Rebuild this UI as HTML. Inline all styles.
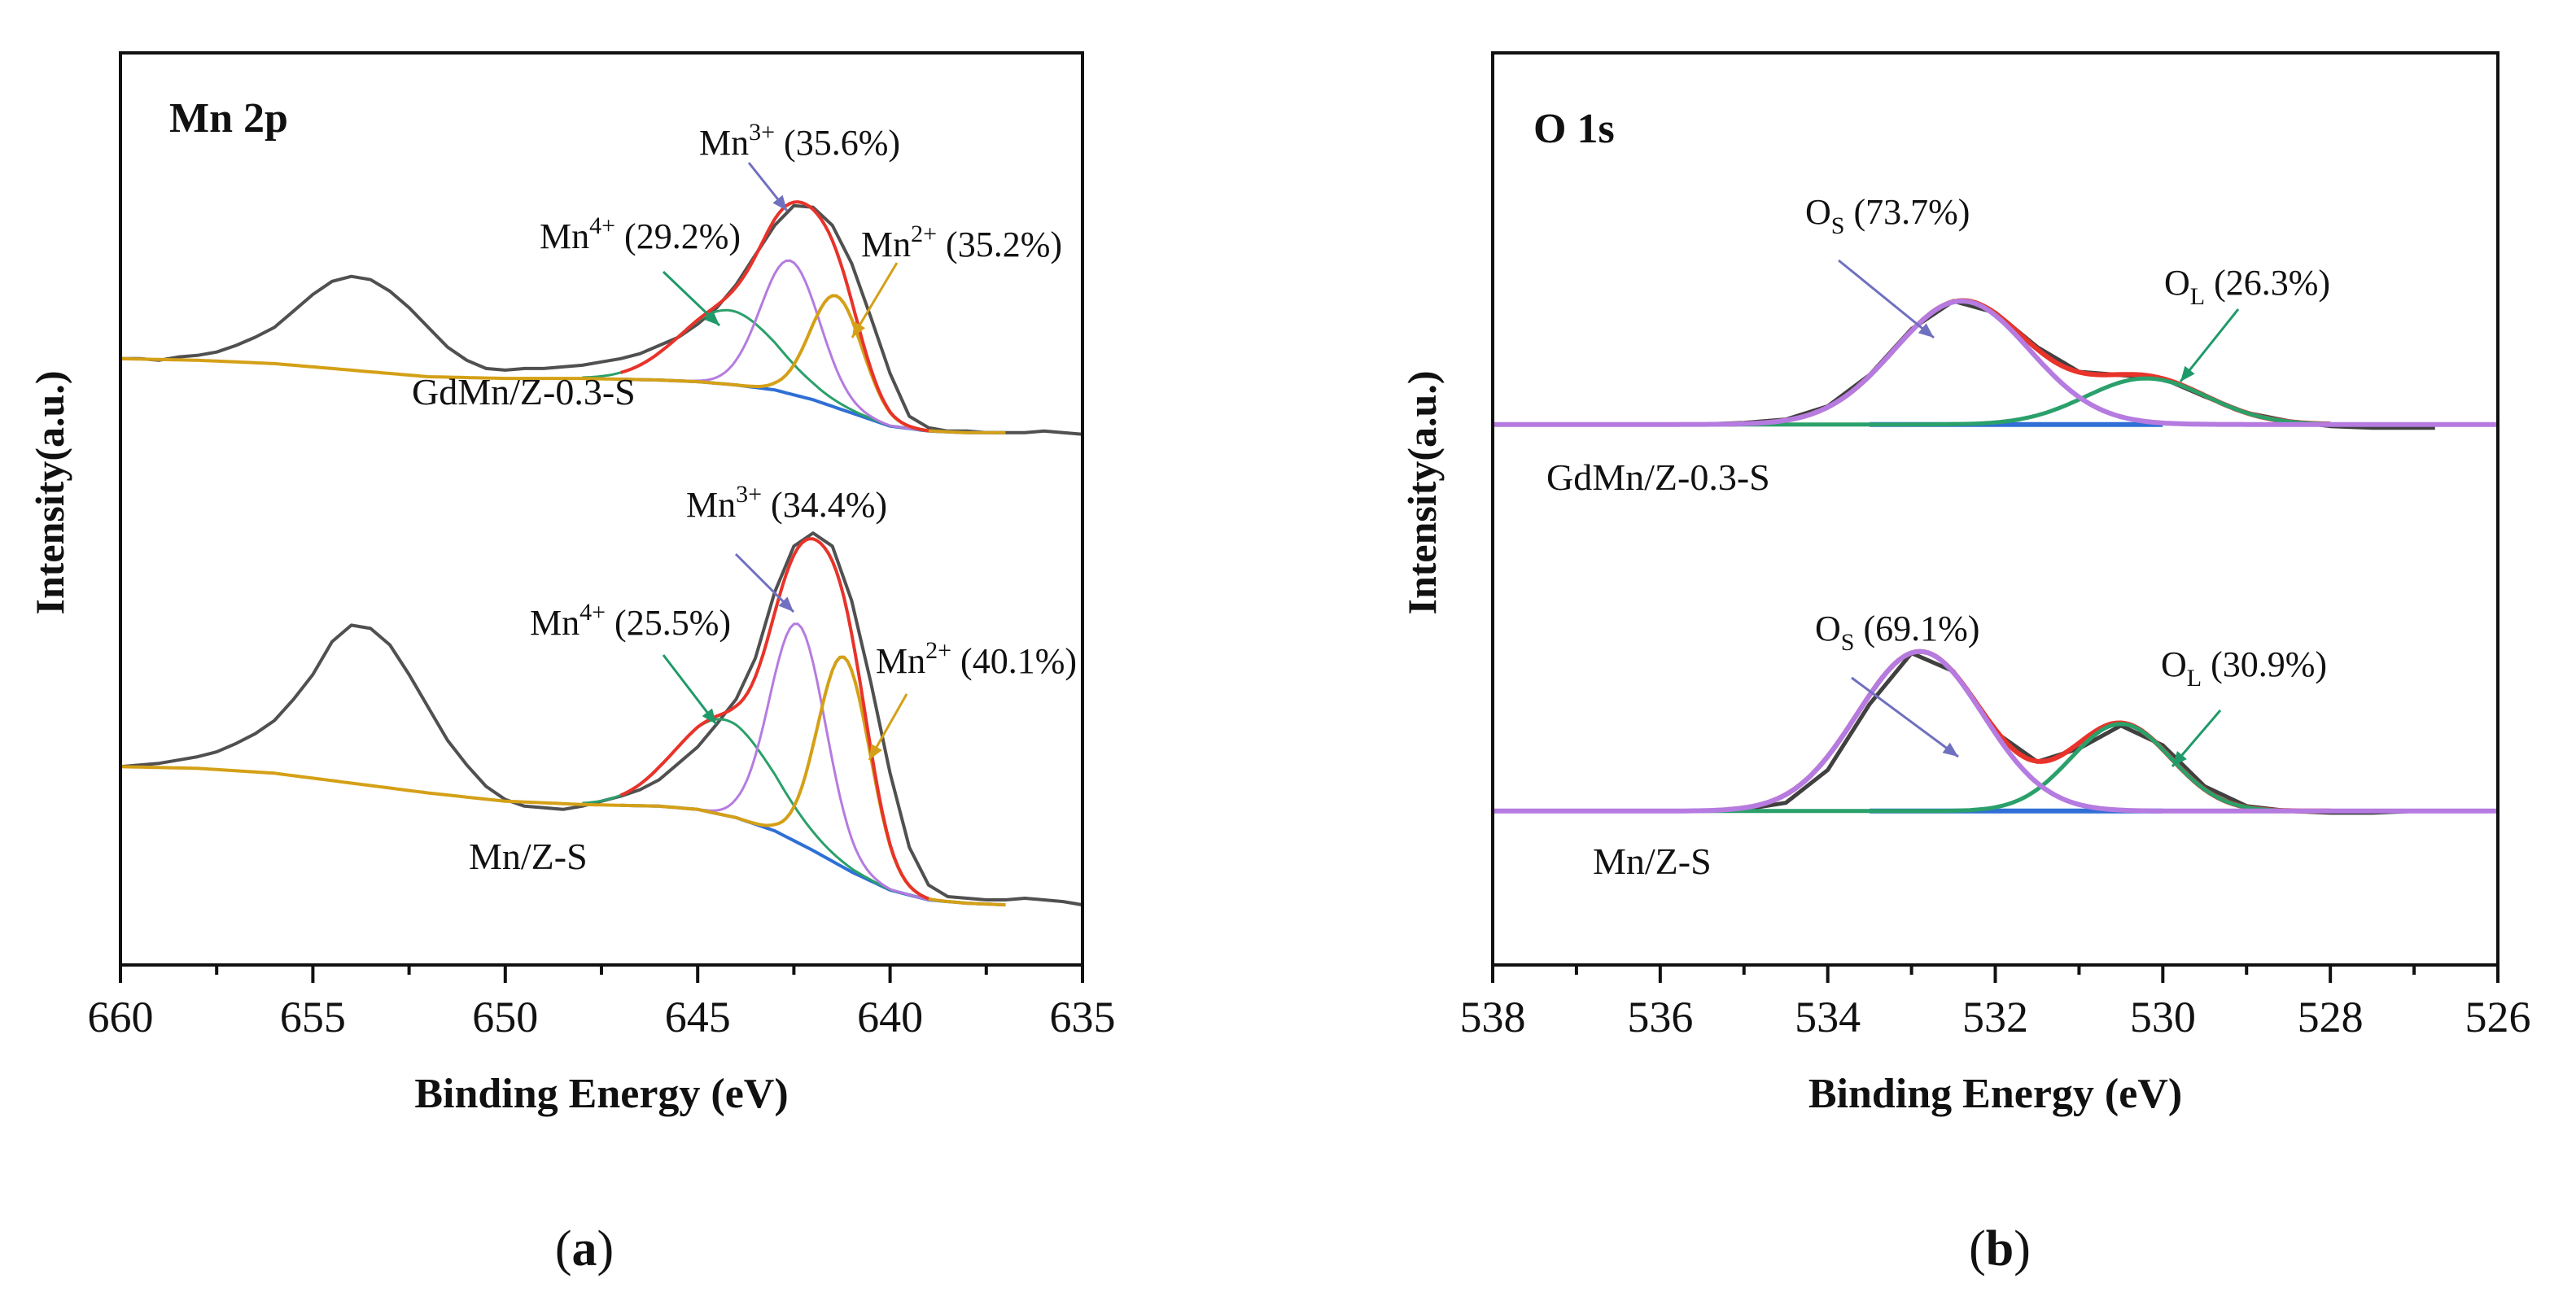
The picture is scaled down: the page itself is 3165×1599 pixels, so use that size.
<!DOCTYPE html>
<html><head><meta charset="utf-8"><style>
html,body{margin:0;padding:0;background:#fff}
svg{display:block}
text{font-family:"Liberation Serif",serif;fill:#111}
</style></head><body>
<svg id="fig" width="3165" height="1599" viewBox="0 0 3165 1599" xmlns="http://www.w3.org/2000/svg">
<rect x="0" y="0" width="3165" height="1599" fill="#fff"/>
<g id="pa"></g>
<g id="pb"></g>
<text x="718" y="1555" font-size="62" text-anchor="middle">(<tspan font-weight="bold">a</tspan>)</text>
<text x="2457" y="1555" font-size="62" text-anchor="middle">(<tspan font-weight="bold">b</tspan>)</text>
</svg>
<script>
// ---------- Panel A data (Mn 2p) ----------
const mnEnergy = [660,659.5,659,658.5,658,657.5,657,656.5,656,655.5,655,654.5,654,653.5,653,652.5,652,651.5,651,650.5,650,649.5,649,648.5,648,647.5,647,646.5,646,645.5,645,644.5,644,643.5,643,642.5,642,641.5,641,640.5,640,639.5,639,638.5,638,637.5,637,636.5,636,635.5,635];
const mnRawTop = [47,47,46,48,49,51,55,60,66,76,86,94,97,95,88,78,66,54,46,41,40,41,41,42,43,45,47,50,55,60,68,78,92,110,128,140,139,128,105,72,38,12,5,3,3,2,2,2,3,2,1];
const mnRawBot = [84,85,86,88,90,93,98,104,112,125,140,160,170,168,158,140,120,100,85,72,64,60,59,58,60,63,66,70,76,86,96,110,125,150,190,218,226,218,185,135,80,35,12,5,4,3,3,4,3,2,0];
const mnBgEnergy = [660,658,656,654,652,650,648,646,645,644,643,642,641,640,639,638,637];
const mnBgTop = [47,46,44,40,36,35,35,34,33,31,28,22,14,6,3,2,2];
const mnBgBot = [84,83,80,74,68,63,61,60,58,53,45,33,20,9,3,1,0];
// peaks: [center, height, fwhm]
const mnPeaksTop = {mn4:[644.2,45,3.0], mn3:[642.6,81,1.8], mn2:[641.4,68,1.6]};
const mnPeaksBot = {mn4:[644.3,58,3.0], mn3:[642.4,133,1.7], mn2:[641.2,128,1.6]};
const mnTicks = [660,655,650,645,640,635];

// ---------- Panel B data (O 1s) ----------
const oEnergy = [535.5,535,534.5,534,533.5,533,532.5,532,531.5,531,530.5,530,529.5,529,528.5,528,527.5,527,526.75];
const oRawTop = [0,1,3,11,30,58,75,68,47,32,30,28,17,7,2,-1,-2,-2,-2];
const oRawBot = [0,1,5,25,65,96,85,48,30,38,52,40,15,3,0,-1,-1,0,0];
const oPeaksTop = {os:[532.4,75,1.9], ol:[530.2,28,1.7]};
const oPeaksBot = {os:[532.9,97,1.77], ol:[530.5,53,1.41]};
const oTicks = [538,536,534,532,530,528,526];

const NS="http://www.w3.org/2000/svg";
const K=2.022;
function mk(parent,tag,attrs){const e=document.createElementNS(NS,tag);for(const k in attrs)e.setAttribute(k,attrs[k]);parent.appendChild(e);return e;}
function gauss(p,e){const s=p[2]/2.3548;return p[1]*Math.exp(-((e-p[0])**2)/(2*s*s));}
function interp(xs,ys,x){for(let i=0;i<xs.length-1;i++){const a=xs[i],b=xs[i+1];if((x<=a&&x>=b)){const t=(x-a)/(b-a);return ys[i]+t*(ys[i+1]-ys[i]);}}return x>xs[0]?ys[0]:ys[ys.length-1];}

function axes(g,L,R,T,B,ticks,sx,title,label,step){
  mk(g,'rect',{x:L,y:T,width:R-L,height:B-T,fill:'none',stroke:'#111','stroke-width':4});
  for(let i=0;i<ticks.length;i++){
    const x=sx(ticks[i]);
    const t=mk(g,'line',{x1:x,y1:B,x2:x,y2:B+22,stroke:'#111','stroke-width':4});
    
    
    const tl=mk(g,'text',{x:x,y:B+82,'font-size':54,'text-anchor':'middle'});
    tl.textContent=ticks[i];
    
    
    if(i<ticks.length-1){const xm=sx(ticks[i]-step/2);
      const m=mk(g,'line',{x1:xm,y1:B,x2:xm,y2:B+12,stroke:'#111','stroke-width':4});
      
      }
  }
  const xt=mk(g,'text',{x:(L+R)/2,y:B+175,'font-size':52,'font-weight':'bold','text-anchor':'middle'});
  xt.textContent='Binding Energy (eV)';
  
  
  const yt=mk(g,'text',{x:0,y:0,'font-size':50,'font-weight':'bold','text-anchor':'middle',transform:`translate(${L-70},${(T+B)/2-20}) rotate(-90)`});
  yt.textContent='Intensity(a.u.)';
  
  
}
function path(g,pts,color,w,name){
  const d=pts.map((p,i)=>(i?'L':'M')+p[0].toFixed(1)+','+p[1].toFixed(1)).join('');
  const e=mk(g,'path',{d:d,fill:'none',stroke:color,'stroke-width':w,'stroke-linejoin':'round'});
  
  
  return e;
}
function txt(g,x,y,html,size,name,bold){
  const e=mk(g,'text',{x:x,y:y,'font-size':size});
  if(bold)e.setAttribute('font-weight','bold');
  e.innerHTML=html;
  
  
}
function arrow(g,x1,y1,x2,y2,color,name){
  const l=mk(g,'line',{x1:x1,y1:y1,x2:x2,y2:y2,stroke:color,'stroke-width':3});
  
  
  const a=Math.atan2(y2-y1,x2-x1),s=20;
  const p=`${x2},${y2} ${x2-s*Math.cos(a-0.4)},${y2-s*Math.sin(a-0.4)} ${x2-s*Math.cos(a+0.4)},${y2-s*Math.sin(a+0.4)}`;
  const h=mk(g,'polygon',{points:p,fill:color});
  
  
}
function rng(a,b,st){const r=[];for(let e=a;e>=b-1e-9;e-=st)r.push(+e.toFixed(3));return r;}

// ---------- Draw Panel A ----------
(function(){
  const g=document.getElementById('pa');
  const L=148,R=1330,T=65,B=1186;
  const sx=e=>L+(660-e)*(R-L)/25;
  const spectra=[{raw:mnRawTop,bg:mnBgTop,pk:mnPeaksTop,base:265,name:'top'},{raw:mnRawBot,bg:mnBgBot,pk:mnPeaksBot,base:550,name:'bottom'}];
  spectra.forEach(s=>{
    const sy=v=>(s.base-v)*K;
    const bg=e=>interp(mnBgEnergy,s.bg,e);
    path(g,mnEnergy.map((e,i)=>[sx(e),sy(s.raw[i])]),'#505050',4,'raw-spectrum-'+s.name);
    path(g,rng(647,637,0.1).map(e=>[sx(e),sy(bg(e))]),'#2f6fd6',4,'background-'+s.name);
    path(g,rng(648,637,0.1).map(e=>[sx(e),sy(bg(e)+gauss(s.pk.mn4,e))]),'#2aa06a',3,'mn4-component-'+s.name);
    path(g,rng(652,637,0.1).map(e=>[sx(e),sy(bg(e)+gauss(s.pk.mn3,e))]),'#b57be0',3,'mn3-component-'+s.name);
    path(g,rng(660,637,0.1).map(e=>[sx(e),sy(bg(e)+gauss(s.pk.mn2,e))]),'#d4a017',4,'mn2-component-'+s.name);
    path(g,rng(647,639,0.1).map(e=>[sx(e),sy(bg(e)+gauss(s.pk.mn4,e)+gauss(s.pk.mn3,e)+gauss(s.pk.mn2,e))]),'#e8332a',4,'envelope-'+s.name);
  });
  axes(g,L,R,T,B,mnTicks,sx,'','a',5);
  txt(g,208,162,'Mn 2p',52,'panel-title',true);
  txt(g,859,190,'Mn<tspan dy="-18" font-size="30">3+</tspan><tspan dy="18"> (35.6%)</tspan>',44,'mn3-label-top');
  txt(g,663,305,'Mn<tspan dy="-18" font-size="30">4+</tspan><tspan dy="18"> (29.2%)</tspan>',44,'mn4-label-top');
  txt(g,1058,315,'Mn<tspan dy="-18" font-size="30">2+</tspan><tspan dy="18"> (35.2%)</tspan>',44,'mn2-label-top');
  txt(g,506,497,'GdMn/Z-0.3-S',46,'sample-label-top');
  txt(g,843,635,'Mn<tspan dy="-18" font-size="30">3+</tspan><tspan dy="18"> (34.4%)</tspan>',44,'mn3-label-bottom');
  txt(g,651,780,'Mn<tspan dy="-18" font-size="30">4+</tspan><tspan dy="18"> (25.5%)</tspan>',44,'mn4-label-bottom');
  txt(g,1076,827,'Mn<tspan dy="-18" font-size="30">2+</tspan><tspan dy="18"> (40.1%)</tspan>',44,'mn2-label-bottom');
  txt(g,576,1068,'Mn/Z-S',46,'sample-label-bottom');
  arrow(g,920,200,967,259,'#7070c0','mn3-arrow-top');
  arrow(g,815,334,884,400,'#1f9a6a','mn4-arrow-top');
  arrow(g,1102,323,1047,415,'#d4a017','mn2-arrow-top');
  arrow(g,904,681,975,752,'#7070c0','mn3-arrow-bottom');
  arrow(g,815,805,880,890,'#1f9a6a','mn4-arrow-bottom');
  arrow(g,1114,853,1068,934,'#d4a017','mn2-arrow-bottom');
})();

// ---------- Draw Panel B ----------
(function(){
  const g=document.getElementById('pb');
  const L=1834,R=3069,T=65,B=1186;
  const sx=e=>L+(538-e)*(R-L)/12;
  const spectra=[{raw:oRawTop,pk:oPeaksTop,base:258,name:'top'},{raw:oRawBot,pk:oPeaksBot,base:493,name:'bottom'}];
  spectra.forEach(s=>{
    const sy=v=>(s.base-v)*K;
    path(g,oEnergy.map((e,i)=>[sx(e),sy(s.raw[i])]),'#404040',5,'raw-spectrum-'+s.name);
    path(g,rng(535.2,528,0.05).map(e=>[sx(e),sy(gauss(s.pk.os,e)+gauss(s.pk.ol,e))]),'#e8332a',6,'envelope-'+s.name);
    path(g,[[sx(533.5),sy(0)],[sx(530),sy(0)]],'#2f6fd6',6,'background-'+s.name);
    path(g,rng(536,528,0.05).map(e=>[sx(e),sy(gauss(s.pk.ol,e))]),'#2aa06a',5,'ol-component-'+s.name);
    path(g,rng(538,526,0.05).map(e=>[sx(e),sy(gauss(s.pk.os,e))]),'#b57be0',6,'os-component-'+s.name);
  });
  axes(g,L,R,T,B,oTicks,sx,'','b',2);
  txt(g,1884,175,'O 1s',52,'panel-title',true);
  txt(g,2218,275,'O<tspan dy="12" font-size="30">S</tspan><tspan dy="-12"> (73.7%)</tspan>',44,'os-label-top');
  txt(g,2659,362,'O<tspan dy="12" font-size="30">L</tspan><tspan dy="-12"> (26.3%)</tspan>',44,'ol-label-top');
  txt(g,1900,602,'GdMn/Z-0.3-S',46,'sample-label-top');
  txt(g,2230,787,'O<tspan dy="12" font-size="30">S</tspan><tspan dy="-12"> (69.1%)</tspan>',44,'os-label-bottom');
  txt(g,2655,831,'O<tspan dy="12" font-size="30">L</tspan><tspan dy="-12"> (30.9%)</tspan>',44,'ol-label-bottom');
  txt(g,1957,1074,'Mn/Z-S',46,'sample-label-bottom');
  arrow(g,2259,320,2376,415,'#7070c0','os-arrow-top');
  arrow(g,2750,380,2679,469,'#1f9a6a','ol-arrow-top');
  arrow(g,2275,833,2406,930,'#7070c0','os-arrow-bottom');
  arrow(g,2728,873,2669,942,'#1f9a6a','ol-arrow-bottom');
})();
</script>
</body></html>
